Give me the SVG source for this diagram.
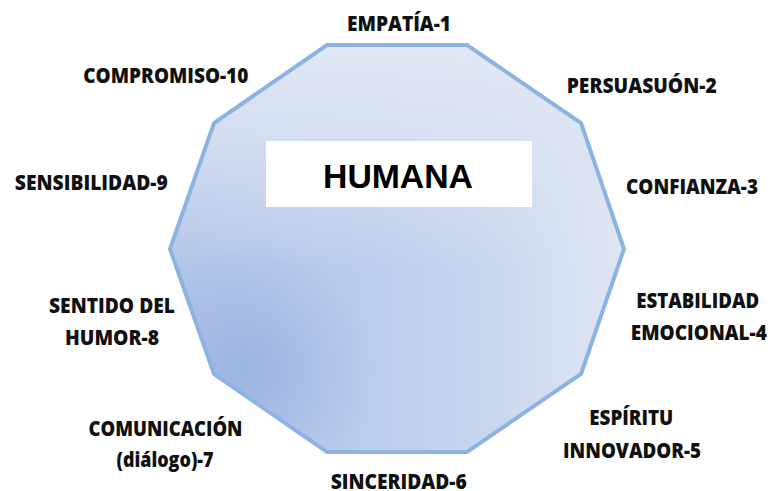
<svg xmlns="http://www.w3.org/2000/svg" width="771" height="491" viewBox="0 0 771 491">
<style>
.lbl{font-family:"Open Sans","Liberation Sans",sans-serif;font-weight:800;font-size:21px;fill:#111;text-anchor:middle}
.title{font-family:"Liberation Sans",Arial,sans-serif;font-weight:bold;font-size:34px;fill:#000;text-anchor:middle}
</style>
<defs>
<linearGradient id="gh" gradientUnits="userSpaceOnUse" x1="170" y1="0" x2="626" y2="0">
<stop offset="0" stop-color="#b2c5e8"/>
<stop offset="0.45" stop-color="#bdcdec"/>
<stop offset="0.72" stop-color="#c9d7ef"/>
<stop offset="1" stop-color="#e0e7f4"/>
</linearGradient>
<radialGradient id="gr" gradientUnits="userSpaceOnUse" cx="245" cy="370" r="130">
<stop offset="0" stop-color="#98b1e1" stop-opacity="0.9"/>
<stop offset="1" stop-color="#98b1e1" stop-opacity="0"/>
</radialGradient>
<linearGradient id="gv" gradientUnits="userSpaceOnUse" x1="0" y1="45" x2="0" y2="270">
<stop offset="0" stop-color="#e1e8f5" stop-opacity="1"/>
<stop offset="0.4" stop-color="#dde5f3" stop-opacity="0.75"/>
<stop offset="1" stop-color="#dde5f3" stop-opacity="0"/>
</linearGradient>
</defs>
<g id="decagon">
<polygon points="327,45 467,45 581,123 624,249 581,374 467,452 327,452 214,374 170,249 214,123" fill="url(#gh)"/>
<polygon points="327,45 467,45 581,123 624,249 581,374 467,452 327,452 214,374 170,249 214,123" fill="url(#gr)"/>
<polygon points="327,45 467,45 581,123 624,249 581,374 467,452 327,452 214,374 170,249 214,123" fill="url(#gv)"/>
<polygon points="327,45 467,45 581,123 624,249 581,374 467,452 327,452 214,374 170,249 214,123" fill="none" stroke="#8db3e2" stroke-width="4" stroke-linejoin="miter"/>
</g>
<g id="center">
<rect x="266" y="141" width="266" height="66" fill="#ffffff"/>
<text class="title" x="398" y="188" textLength="150" lengthAdjust="spacingAndGlyphs">HUMANA</text>
</g>
<g id="connectors"></g>
<g id="n1"><text class="lbl" x="399" y="30.5" textLength="104" lengthAdjust="spacingAndGlyphs">EMPATÍA-1</text></g>
<g id="n2"><text class="lbl" x="641.7" y="93" textLength="150" lengthAdjust="spacingAndGlyphs">PERSUASUÓN-2</text></g>
<g id="n3"><text class="lbl" x="692" y="194" textLength="132" lengthAdjust="spacingAndGlyphs">CONFIANZA-3</text></g>
<g id="n4"><text class="lbl" x="697.7" y="308" textLength="123" lengthAdjust="spacingAndGlyphs">ESTABILIDAD</text><text class="lbl" x="698.8" y="339.5" textLength="136" lengthAdjust="spacingAndGlyphs">EMOCIONAL-4</text></g>
<g id="n5"><text class="lbl" x="631.3" y="425" textLength="84" lengthAdjust="spacingAndGlyphs">ESPÍRITU</text><text class="lbl" x="632" y="458.3" textLength="138" lengthAdjust="spacingAndGlyphs">INNOVADOR-5</text></g>
<g id="n6"><text class="lbl" x="398.7" y="488.5" textLength="136" lengthAdjust="spacingAndGlyphs">SINCERIDAD-6</text></g>
<g id="n7"><text class="lbl" x="165.5" y="436" textLength="154" lengthAdjust="spacingAndGlyphs">COMUNICACIÓN</text><text class="lbl" x="165" y="467" textLength="97" lengthAdjust="spacingAndGlyphs">(diálogo)-7</text></g>
<g id="n8"><text class="lbl" x="112" y="313.3" textLength="126" lengthAdjust="spacingAndGlyphs">SENTIDO DEL</text><text class="lbl" x="112" y="345" textLength="94" lengthAdjust="spacingAndGlyphs">HUMOR-8</text></g>
<g id="n9"><text class="lbl" x="91.3" y="190" textLength="153" lengthAdjust="spacingAndGlyphs">SENSIBILIDAD-9</text></g>
<g id="n10"><text class="lbl" x="165.8" y="83.3" textLength="165" lengthAdjust="spacingAndGlyphs">COMPROMISO-10</text></g>
</svg>
